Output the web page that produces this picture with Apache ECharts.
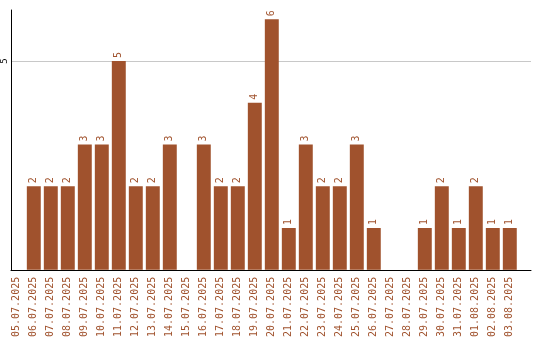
<!DOCTYPE html>
<html><head><meta charset="utf-8">
<script src="https://cdn.jsdelivr.net/npm/echarts@6/dist/echarts.min.js"></script>
<style>html,body{margin:0;padding:0;background:#fff}#c{width:540px;height:340px}</style>
</head><body><div id="c"></div>
<script>
const categories = ["05.07.2025","06.07.2025","07.07.2025","08.07.2025","09.07.2025","10.07.2025","11.07.2025","12.07.2025","13.07.2025","14.07.2025","15.07.2025","16.07.2025","17.07.2025","18.07.2025","19.07.2025","20.07.2025","21.07.2025","22.07.2025","23.07.2025","24.07.2025","25.07.2025","26.07.2025","27.07.2025","28.07.2025","29.07.2025","30.07.2025","31.07.2025","01.08.2025","02.08.2025","03.08.2025"];
const values = [0,2,2,2,3,3,5,2,2,3,0,3,2,2,4,6,1,3,2,2,3,1,0,0,1,2,1,2,1,1];
const yTicks = [5];
const yMax = 6.22;

const chart = echarts.init(document.getElementById('c'), null, {renderer:'canvas'});
chart.setOption({
  animation:false,
  grid:[
    {left:10,right:9,top:10,bottom:70,containLabel:false},
    {left:8.3,right:21.7,top:10,bottom:70,containLabel:false}
  ],
  xAxis:[
    {type:'value',gridIndex:0,min:0,max:1,
      axisLine:{show:true,onZero:false,lineStyle:{color:'#000',width:1}},
      axisTick:{show:false},axisLabel:{show:false},splitLine:{show:false}},
    {type:'category',gridIndex:1,data:categories,
      axisLine:{show:false},axisTick:{show:false},
      axisLabel:{rotate:90,interval:0,margin:7,color:'#a0522d',fontFamily:'DejaVu Sans Mono',fontSize:10}}
  ],
  yAxis:[
    {type:'value',gridIndex:0,min:0,max:yMax,interval:5,
      axisLine:{show:true,lineStyle:{color:'#000',width:1}},
      axisTick:{show:false},splitLine:{show:false},
      axisLabel:{rotate:90,margin:2,color:'#000',fontFamily:'DejaVu Sans Mono',fontSize:9,
        formatter:v=>yTicks.includes(v)?String(v):''}},
    {type:'value',gridIndex:1,min:0,max:yMax,show:false}
  ],
  series:[
    {type:'line',xAxisIndex:0,yAxisIndex:0,data:[],z:0,zlevel:0,
      markLine:{silent:true,symbol:'none',label:{show:false},z:0,
        lineStyle:{color:'#c8c8c8',type:'solid',width:1},
        data:yTicks.map(t=>({yAxis:t}))}},
    {type:'bar',xAxisIndex:1,yAxisIndex:1,data:values.map(v=>v===0?null:v),barCategoryGap:'18%',
      itemStyle:{color:'#a0522d'},
      label:{show:true,position:'top',rotate:90,align:'left',verticalAlign:'middle',distance:3,
        color:'#a0522d',fontFamily:'DejaVu Sans Mono',fontSize:10},
      z:10}
  ]
});
</script></body></html>
